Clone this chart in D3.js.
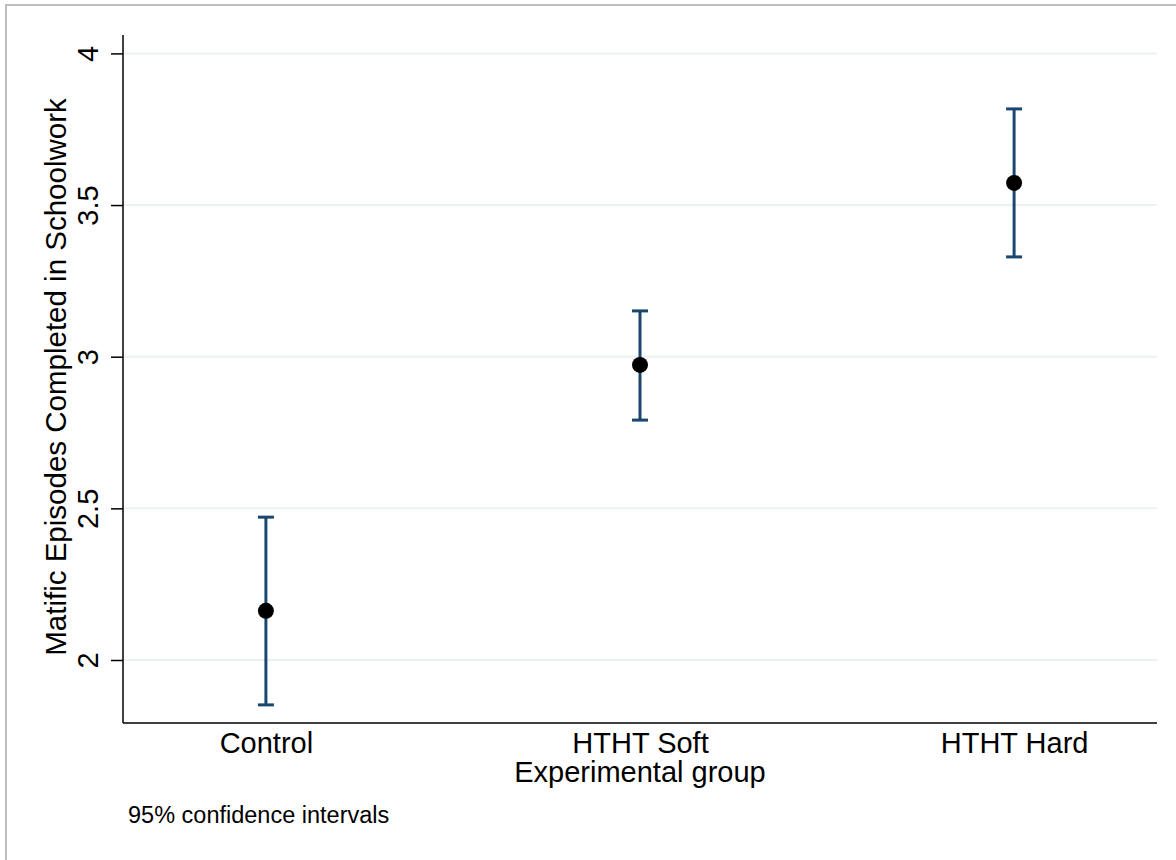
<!DOCTYPE html>
<html>
<head>
<meta charset="utf-8">
<style>
body { margin: 0; background: #fff; }
svg text { font-family: "Liberation Sans", Arial, Helvetica, sans-serif; fill: #000; }
.grid line { stroke: #eaf2f3; stroke-width: 2px; }
.ci line { stroke: #1a476f; stroke-width: 3px; }
</style>
</head>
<body>
<svg width="1176" height="860"></svg>
<script src="https://cdn.jsdelivr.net/npm/d3@7/dist/d3.min.js"></script>
<script>
// data
var groups = ["Control", "HTHT Soft", "HTHT Hard"];
var means  = [2.162, 2.973, 3.573];
var lower  = [1.852, 2.791, 3.329];
var upper  = [2.471, 3.151, 3.817];
var yTicks = [2, 2.5, 3, 3.5, 4];

var svg = d3.select("svg");

// outer frame (Stata graph region)
svg.append("rect")
    .attr("x", 6).attr("y", 5)
    .attr("width", 1200).attr("height", 900)
    .attr("fill", "none")
    .attr("stroke", "#bdbdbd")
    .attr("stroke-width", 2);

// plot area edges (note: "top" is taken by window.top)
var pLeft = 123, pRight = 1157, pTop = 35, pBottom = 723;

var x = d3.scalePoint()
    .domain(groups)
    .range([pLeft, pRight])
    .padding(0.382);

var y = d3.scaleLinear()
    .domain([2 - (pBottom - 660) / 303.3, 2 + (660 - pTop) / 303.3])
    .range([pBottom, pTop]);

// gridlines
svg.append("g")
    .attr("class", "grid")
  .selectAll("line")
  .data(yTicks)
  .enter().append("line")
    .attr("x1", pLeft)
    .attr("x2", pRight)
    .attr("y1", function(d) { return y(d); })
    .attr("y2", function(d) { return y(d); });

// y axis
var yAxis = svg.append("g")
    .attr("transform", "translate(" + pLeft + ",0)")
    .call(d3.axisLeft(y).tickValues(yTicks).tickSize(12).tickFormat(d3.format("")));
yAxis.select(".domain").attr("stroke", "#000").attr("stroke-width", 1.5)
    .attr("d", "M0," + pTop + "V" + pBottom);
yAxis.selectAll(".tick line").attr("stroke", "#000").attr("stroke-width", 1.5);
yAxis.selectAll(".tick text")
    .attr("x", 0).attr("y", 0)
    .attr("dy", null)
    .attr("transform", "translate(-25,0) rotate(-90)")
    .attr("text-anchor", "middle")
    .style("font-size", "29px")
    .attr("font-family", null)
    .attr("fill", "#000");

// x axis
var xAxis = svg.append("g")
    .attr("transform", "translate(0," + pBottom + ")")
    .call(d3.axisBottom(x).tickSize(0));
xAxis.select(".domain").attr("stroke", "#000").attr("stroke-width", 1.5)
    .attr("d", "M" + pLeft + ",0H" + pRight);
xAxis.selectAll(".tick text")
    .attr("y", 30)
    .attr("dy", null)
    .style("font-size", "29px")
    .attr("font-family", null)
    .attr("fill", "#000");

// titles
svg.append("text")
    .attr("transform", "translate(66," + ((pTop + pBottom) / 2 - 2) + ") rotate(-90)")
    .attr("text-anchor", "middle")
    .style("font-size", "29.5px")
    .text("Matific Episodes Completed in Schoolwork");

svg.append("text")
    .attr("x", x("HTHT Soft"))
    .attr("y", 782)
    .attr("text-anchor", "middle")
    .style("font-size", "29px")
    .text("Experimental group");

svg.append("text")
    .attr("x", 128)
    .attr("y", 823)
    .style("font-size", "23.5px")
    .text("95% confidence intervals");

// confidence intervals
var ci = svg.append("g").attr("class", "ci")
  .selectAll("g")
  .data(groups)
  .enter().append("g");

ci.append("line")
    .attr("x1", function(d) { return x(d); })
    .attr("x2", function(d) { return x(d); })
    .attr("y1", function(d, i) { return y(lower[i]); })
    .attr("y2", function(d, i) { return y(upper[i]); });

ci.append("line")
    .attr("x1", function(d) { return x(d) - 8; })
    .attr("x2", function(d) { return x(d) + 8; })
    .attr("y1", function(d, i) { return y(lower[i]); })
    .attr("y2", function(d, i) { return y(lower[i]); });

ci.append("line")
    .attr("x1", function(d) { return x(d) - 8; })
    .attr("x2", function(d) { return x(d) + 8; })
    .attr("y1", function(d, i) { return y(upper[i]); })
    .attr("y2", function(d, i) { return y(upper[i]); });

// means
svg.append("g")
  .selectAll("circle")
  .data(groups)
  .enter().append("circle")
    .attr("cx", function(d) { return x(d); })
    .attr("cy", function(d, i) { return y(means[i]); })
    .attr("r", 8)
    .attr("fill", "#000");
</script>
</body>
</html>
